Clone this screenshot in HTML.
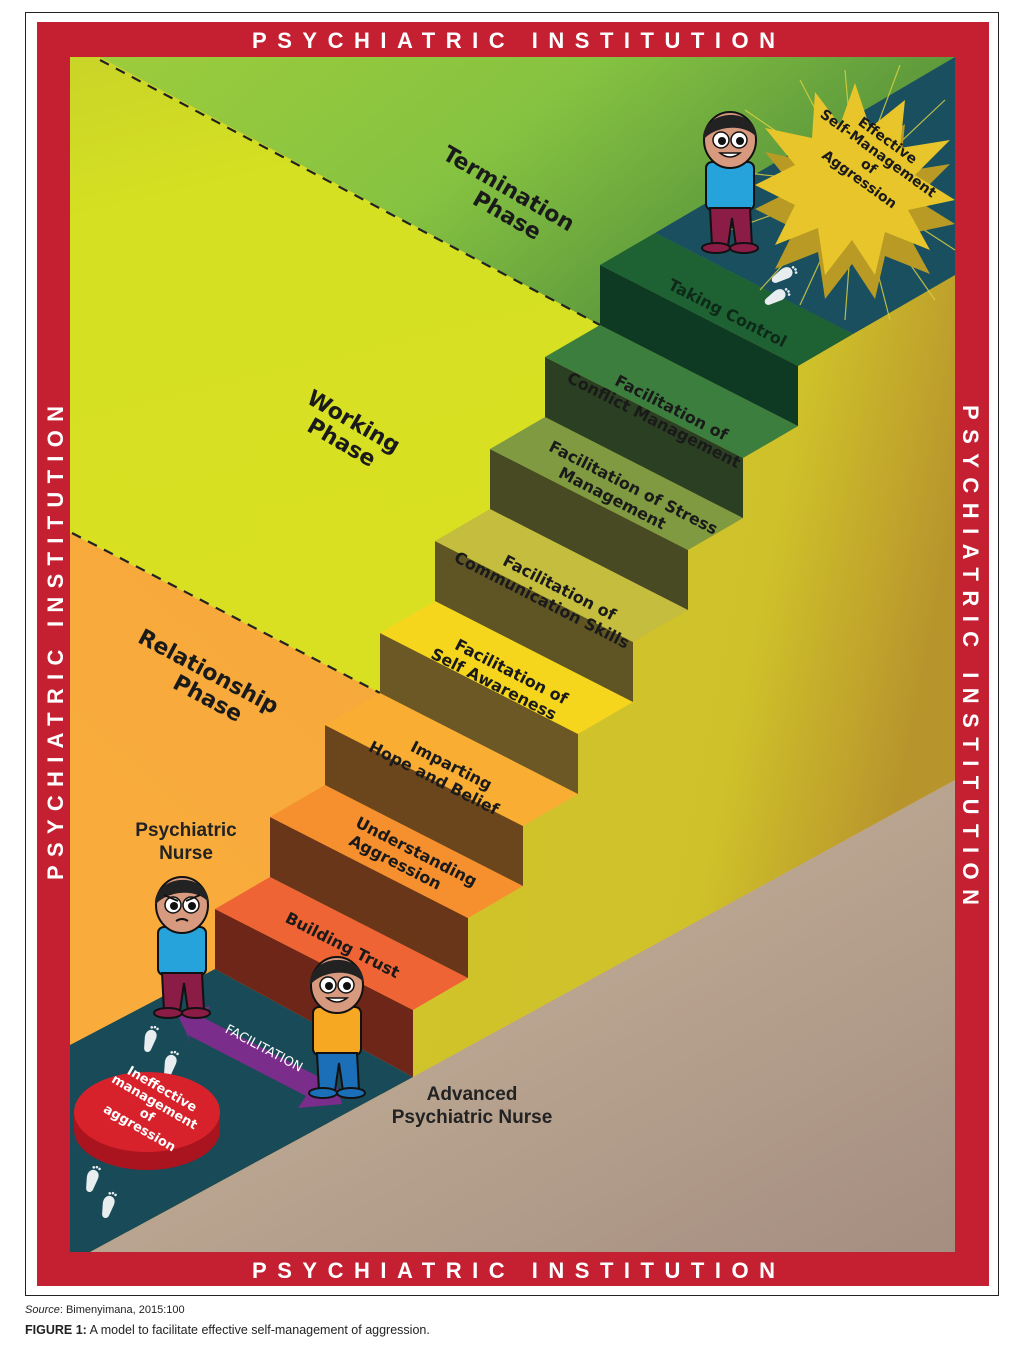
<!DOCTYPE html>
<html><head><meta charset="utf-8"><style>
html,body{margin:0;padding:0;background:#fff;}
body{width:1009px;height:1344px;position:relative;overflow:hidden;font-family:"Liberation Sans",sans-serif;}
</style></head><body>
<svg width="1009" height="1344" viewBox="0 0 1009 1344" xmlns="http://www.w3.org/2000/svg">
<defs>
<linearGradient id="gTerm" x1="0" y1="0" x2="1" y2="0.4"><stop offset="0" stop-color="#9ccc3c"/><stop offset="0.5" stop-color="#86c341"/><stop offset="1" stop-color="#4f8a3a"/></linearGradient>
<linearGradient id="gWork" x1="0" y1="0" x2="0.2" y2="1"><stop offset="0" stop-color="#c9d428"/><stop offset="0.25" stop-color="#d5e022"/><stop offset="1" stop-color="#d9e021"/></linearGradient>
<linearGradient id="gOr" x1="0.4" y1="0" x2="0" y2="0.6"><stop offset="0" stop-color="#b8862e"/><stop offset="0.3" stop-color="#f4a63a"/><stop offset="1" stop-color="#f9ac3c"/></linearGradient>
<linearGradient id="gSide" x1="0" y1="0" x2="1" y2="0.3"><stop offset="0" stop-color="#d2c52a"/><stop offset="0.7" stop-color="#cfc12a"/><stop offset="1" stop-color="#b8952c"/></linearGradient>
<linearGradient id="gFloor" x1="0" y1="0" x2="1" y2="1"><stop offset="0" stop-color="#cdbca0"/><stop offset="1" stop-color="#a58d80"/></linearGradient>
<g id="foot"><path d="M0,0 c4,-2 9,1 8,7 l-2,12 c-1,4 -6,4 -7,0 l-2,-10 c-1,-5 1,-8 3,-9z" fill="#e8eef0"/><circle cx="1" cy="-3" r="1.3" fill="#e8eef0"/><circle cx="4" cy="-4" r="1.3" fill="#e8eef0"/><circle cx="7" cy="-3" r="1.3" fill="#e8eef0"/></g>
</defs>

<rect x="25.5" y="12.5" width="973" height="1283" fill="#fff" stroke="#222" stroke-width="1"/>
<rect x="37" y="22" width="952" height="1264" fill="#c42032"/>
<rect x="70" y="57" width="885" height="1195" fill="url(#gOr)"/>

<polygon points="70,57 100,57 600,325 600,700 380,693 70,533" fill="url(#gWork)"/>
<polygon points="100,57 955,57 955,330 600,330 600,325" fill="url(#gTerm)"/>
<line x1="100" y1="60" x2="600" y2="325" stroke="#222" stroke-width="2.2" stroke-dasharray="10,8"/>
<line x1="72" y1="533" x2="380" y2="693" stroke="#222" stroke-width="2.2" stroke-dasharray="10,8"/>

<polygon points="413,1070 413,1010 468,978 468,918 523,886 523,826 578,794 578,734 633,702 633,642 688,610 688,550 743,518 743,458 798,426 798,366 955,275 955,780 413,1077" fill="url(#gSide)"/>
<polygon points="413,1077 955,780 955,1252 90,1252" fill="url(#gFloor)"/>
<polygon points="70,1045 215,969 413,1077 90,1252 70,1252" fill="#184a57"/>
<polygon points="655,233 853,334 955,275 955,57" fill="#1a4f60"/>

<g>
<polygon points="215,909 413,1010 413,1077 215,969" fill="#6e2619"/>
<polygon points="215,909 413,1010 468,978 270,877" fill="#ef6434"/>
<polygon points="270,817 468,918 468,978 270,877" fill="#6a361a"/>
<polygon points="270,817 468,918 523,886 325,785" fill="#f68f2d"/>
<polygon points="325,725 523,826 523,886 325,785" fill="#6b461c"/>
<polygon points="325,725 523,826 578,794 380,693" fill="#f9ad33"/>
<polygon points="380,633 578,734 578,794 380,693" fill="#6c5825"/>
<polygon points="380,633 578,734 633,702 435,601" fill="#f6d61c"/>
<polygon points="435,541 633,642 633,702 435,601" fill="#5f5424"/>
<polygon points="435,541 633,642 688,610 490,509" fill="#c4bd3e"/>
<polygon points="490,449 688,550 688,610 490,509" fill="#474a22"/>
<polygon points="490,449 688,550 743,518 545,417" fill="#7f9a40"/>
<polygon points="545,357 743,458 743,518 545,417" fill="#2b3f22"/>
<polygon points="545,357 743,458 798,426 600,325" fill="#3c7e3e"/>
<polygon points="600,265 798,366 798,426 600,325" fill="#0e3a24"/>
<polygon points="600,265 798,366 853,334 655,233" fill="#1e6234"/>
</g>

<g stroke="#d8d040" stroke-width="1.2" opacity="0.85">
<line x1="855" y1="185" x2="800" y2="80"/><line x1="855" y1="185" x2="845" y2="70"/><line x1="855" y1="185" x2="900" y2="65"/><line x1="855" y1="185" x2="945" y2="100"/>
<line x1="855" y1="185" x2="745" y2="110"/><line x1="855" y1="185" x2="720" y2="170"/><line x1="855" y1="185" x2="730" y2="230"/>
<line x1="855" y1="185" x2="760" y2="290"/><line x1="855" y1="185" x2="800" y2="305"/><line x1="855" y1="185" x2="845" y2="320"/><line x1="855" y1="185" x2="890" y2="320"/><line x1="855" y1="185" x2="935" y2="300"/><line x1="855" y1="185" x2="955" y2="250"/>
</g>
<polygon points="855,83 870,128 905,100 900,148 950,140 915,175 955,200 908,210 930,250 885,232 875,275 852,240 825,275 818,228 775,245 795,205 755,185 795,165 765,128 812,138 815,92 840,125" fill="#b89a25" transform="translate(0,24)"/>
<polygon points="855,83 870,128 905,100 900,148 950,140 915,175 955,200 908,210 930,250 885,232 875,275 852,240 825,275 818,228 775,245 795,205 755,185 795,165 765,128 812,138 815,92 840,125" fill="#e8c52a"/>
<g font-family="'DejaVu Sans',sans-serif" font-weight="bold" font-size="14" fill="#1a1a1a" text-anchor="middle" transform="translate(872,162) rotate(36)">
<text x="0" y="-22">Effective</text><text x="0" y="-6">Self-Management</text><text x="0" y="10">of</text><text x="0" y="26">Aggression</text>
</g>

<use href="#foot" transform="translate(790,268) rotate(60)"/>
<use href="#foot" transform="translate(783,290) rotate(60)"/>
<use href="#foot" transform="translate(150,1030) rotate(15)"/>
<use href="#foot" transform="translate(170,1055) rotate(15)"/>
<use href="#foot" transform="translate(92,1170) rotate(15)"/>
<use href="#foot" transform="translate(108,1196) rotate(15)"/>

<ellipse cx="147" cy="1130" rx="73" ry="40" fill="#a9141f"/>
<rect x="74" y="1112" width="146" height="18" fill="#a9141f"/>
<ellipse cx="147" cy="1112" rx="73" ry="40" fill="#d8222b"/>
<g font-family="'DejaVu Sans',sans-serif" font-weight="bold" font-size="13" fill="#fff" text-anchor="middle" transform="translate(150,1110) rotate(30)">
<text x="0" y="-20">Ineffective</text><text x="0" y="-5">management</text><text x="0" y="10">of</text><text x="0" y="25">aggression</text>
</g>

<polygon points="178,1016 210,1006 204,1018 325,1080 332,1070 342,1104 298,1108 306,1096 186,1034 192,1044" fill="#7b2d8b"/>
<text transform="translate(262,1052) rotate(28)" font-family="'DejaVu Sans',sans-serif" font-size="13" fill="#fff" text-anchor="middle">FACILITATION</text>

<g transform="translate(730,140)">
<rect x="-24" y="22" width="48" height="48" rx="6" fill="#27a3dc" stroke="#111" stroke-width="2"/>
<path d="M-20,68 h40 l2,38 h-16 l-4,-28 l-4,28 h-16z" fill="#8b1c45" stroke="#111" stroke-width="2"/>
<ellipse cx="-14" cy="108" rx="14" ry="5" fill="#8b1c45" stroke="#111" stroke-width="2"/><ellipse cx="14" cy="108" rx="14" ry="5" fill="#8b1c45" stroke="#111" stroke-width="2"/>
<ellipse cx="0" cy="0" rx="26" ry="28" fill="#d89a7e" stroke="#111" stroke-width="2"/>
<path d="M-27,0 c-2,-30 52,-36 54,-2 c-10,-14 -40,-14 -54,2z" fill="#222"/>
<circle cx="-9" cy="0" r="8" fill="#fff" stroke="#111" stroke-width="1.5"/><circle cx="9" cy="0" r="8" fill="#fff" stroke="#111" stroke-width="1.5"/>
<circle cx="-8" cy="1" r="4" fill="#111"/><circle cx="10" cy="1" r="4" fill="#111"/>
<path d="M-10,13 q10,8 20,0z" fill="#fff" stroke="#111" stroke-width="1.5"/>
</g>
<g transform="translate(182,905)">
<rect x="-24" y="22" width="48" height="48" rx="6" fill="#27a3dc" stroke="#111" stroke-width="2"/>
<path d="M-20,68 h40 l2,38 h-16 l-4,-28 l-4,28 h-16z" fill="#8b1c45" stroke="#111" stroke-width="2"/>
<ellipse cx="-14" cy="108" rx="14" ry="5" fill="#8b1c45" stroke="#111" stroke-width="2"/><ellipse cx="14" cy="108" rx="14" ry="5" fill="#8b1c45" stroke="#111" stroke-width="2"/>
<ellipse cx="0" cy="0" rx="26" ry="28" fill="#d89a7e" stroke="#111" stroke-width="2"/>
<path d="M-27,0 c-2,-30 52,-36 54,-2 c-10,-14 -40,-14 -54,2z" fill="#222"/>
<circle cx="-9" cy="0" r="8" fill="#fff" stroke="#111" stroke-width="1.5"/><circle cx="9" cy="0" r="8" fill="#fff" stroke="#111" stroke-width="1.5"/>
<circle cx="-8" cy="1" r="4" fill="#111"/><circle cx="10" cy="1" r="4" fill="#111"/>
<path d="M-18,-10 l14,6 M18,-10 l-14,6 M-6,16 q6,-4 12,0" stroke="#111" stroke-width="2" fill="none"/>
</g>
<g transform="translate(337,985)">
<rect x="-24" y="22" width="48" height="48" rx="6" fill="#f7a823" stroke="#111" stroke-width="2"/>
<path d="M-20,68 h40 l2,38 h-16 l-4,-28 l-4,28 h-16z" fill="#1a6fb8" stroke="#111" stroke-width="2"/>
<ellipse cx="-14" cy="108" rx="14" ry="5" fill="#1a6fb8" stroke="#111" stroke-width="2"/><ellipse cx="14" cy="108" rx="14" ry="5" fill="#1a6fb8" stroke="#111" stroke-width="2"/>
<ellipse cx="0" cy="0" rx="26" ry="28" fill="#d89a7e" stroke="#111" stroke-width="2"/>
<path d="M-27,0 c-2,-30 52,-36 54,-2 c-10,-14 -40,-14 -54,2z" fill="#222"/>
<circle cx="-9" cy="0" r="8" fill="#fff" stroke="#111" stroke-width="1.5"/><circle cx="9" cy="0" r="8" fill="#fff" stroke="#111" stroke-width="1.5"/>
<circle cx="-8" cy="1" r="4" fill="#111"/><circle cx="10" cy="1" r="4" fill="#111"/>
<path d="M-10,13 q10,8 20,0z" fill="#fff" stroke="#111" stroke-width="1.5"/>
</g>

<g font-family="'DejaVu Sans',sans-serif" font-weight="bold" font-size="22" fill="#1a1a1a" text-anchor="middle">
<g transform="translate(505,195) rotate(30)"><text x="0" y="0">Termination</text><text x="12" y="24">Phase</text></g>
<g transform="translate(350,428) rotate(30)"><text x="0" y="0">Working</text><text x="0" y="24">Phase</text></g>
<g transform="translate(205,678) rotate(28)"><text x="0" y="0">Relationship</text><text x="12" y="24">Phase</text></g>
</g>

<g font-family="'DejaVu Sans',sans-serif" font-weight="bold" font-size="16" fill="#1a1a1a" text-anchor="middle">
<text transform="translate(340,950) rotate(27)">Building Trust</text>
<g transform="translate(405,852) rotate(27)"><text x="10" y="0">Understanding</text><text x="-4" y="19">Aggression</text></g>
<g transform="translate(440,766) rotate(27)"><text x="10" y="0">Imparting</text><text x="0" y="19">Hope and Belief</text></g>
<g transform="translate(500,672) rotate(27)"><text x="10" y="0">Facilitation of</text><text x="0" y="19">Self Awareness</text></g>
<g transform="translate(548,588) rotate(27)"><text x="10" y="0">Facilitation of</text><text x="0" y="19">Communication Skills</text></g>
<g transform="translate(622,488) rotate(27)"><text x="10" y="0">Facilitation of Stress</text><text x="-4" y="19">Management</text></g>
<g transform="translate(660,408) rotate(27)"><text x="10" y="0">Facilitation of</text><text x="0" y="19">Conflict Management</text></g>
<text transform="translate(725,318) rotate(27)" fill="#0d2a18">Taking Control</text>
</g>

<g font-family="'Liberation Sans',sans-serif" font-weight="bold" font-size="19" fill="#222" text-anchor="middle">
<text x="186" y="836">Psychiatric</text><text x="186" y="859">Nurse</text>
<text x="472" y="1100">Advanced</text><text x="472" y="1123">Psychiatric Nurse</text>
</g>

<g font-family="'Liberation Sans',sans-serif" font-weight="bold" font-size="22" fill="#fff">
<text x="252" y="48" textLength="523" lengthAdjust="spacing">PSYCHIATRIC INSTITUTION</text>
<text x="252" y="1278" textLength="523" lengthAdjust="spacing">PSYCHIATRIC INSTITUTION</text>
<text transform="translate(63,880) rotate(-90)" textLength="474" lengthAdjust="spacing">PSYCHIATRIC INSTITUTION</text>
<text transform="translate(963,405) rotate(90)" textLength="500" lengthAdjust="spacing">PSYCHIATRIC INSTITUTION</text>
</g>

<text x="25" y="1313" font-family="'Liberation Sans',sans-serif" font-size="11" fill="#222"><tspan font-style="italic">Source</tspan>: Bimenyimana, 2015:100</text>
<text x="25" y="1334" font-family="'Liberation Sans',sans-serif" font-size="12.5" fill="#222"><tspan font-weight="bold">FIGURE 1:</tspan> A model to facilitate effective self-management of aggression.</text>
</svg>
</body></html>
